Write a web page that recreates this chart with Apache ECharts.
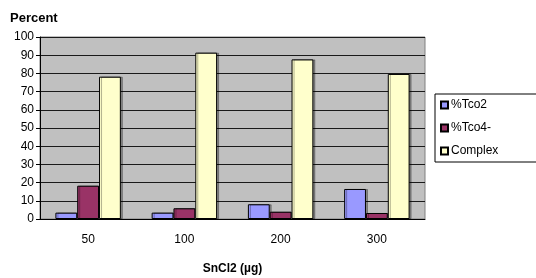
<!DOCTYPE html>
<html>
<head>
<meta charset="utf-8">
<script src="https://cdn.jsdelivr.net/npm/echarts@6/dist/echarts.min.js"></script>
<style>
  html, body { margin: 0; padding: 0; background: #fff; }
  #main { width: 536px; height: 278px; }
</style>
</head>
<body>
<div id="main"></div>
<script>
// SnCl2 amount (µg)
var categories = ['50', '100', '200', '300']
var tco2 = [3.5, 3.5, 8.1, 16.5]
var tco4 = [18.3, 5.9, 4.0, 3.3]
var complex = [78.2, 91.4, 87.7, 79.7]

function barSeries (name, data, color) {
  return {
    name: name,
    type: 'bar',
    data: data,
    barGap: '0%',
    barCategoryGap: '32%',
    itemStyle: {
      color: color,
      borderColor: '#000',
      borderWidth: 1,
      shadowColor: 'rgba(0,0,0,0.3)',
      shadowOffsetX: 2,
      shadowOffsetY: 0
    }
  }
}

var myChart = echarts.init(document.getElementById('main'))
myChart.setOption({
  animation: false,
  textStyle: { fontFamily: 'Liberation Sans, Arial, sans-serif' },
  grid: {
    left: 40,
    right: 111,
    top: 37,
    bottom: 59,
    outerBoundsMode: 'none',
    containLabel: false,
    show: true,
    backgroundColor: '#c0c0c0',
    borderColor: '#808080',
    borderWidth: 1
  },
  legend: {
    orient: 'vertical',
    left: 435,
    top: 94,
    itemWidth: 7,
    itemHeight: 7,
    itemGap: 11,
    icon: 'rect',
    padding: [5, 60, 5, 5],
    borderColor: '#000',
    borderWidth: 1,
    textStyle: { fontSize: 12, color: '#000', padding: [0, 0, 0, -2] },
    data: ['%Tco2', '%Tco4-', 'Complex']
  },
  xAxis: {
    type: 'category',
    data: categories,
    name: 'SnCl2 (µg)',
    nameLocation: 'middle',
    nameGap: 44,
    nameTextStyle: { fontWeight: 'bold', fontSize: 12, color: '#000' },
    axisLine: { lineStyle: { color: '#000' } },
    axisTick: { length: 4, lineStyle: { color: '#000' } },
    axisLabel: { color: '#000', fontSize: 12, margin: 15 }
  },
  yAxis: {
    type: 'value',
    min: 0,
    max: 100,
    interval: 10,
    name: 'Percent',
    nameLocation: 'end',
    nameGap: 12,
    nameTextStyle: { fontWeight: 'bold', fontSize: 13, color: '#000', align: 'left', padding: [0, 0, 0, -30] },
    axisLine: { show: true, lineStyle: { color: '#000' } },
    axisTick: { show: true, length: 4, lineStyle: { color: '#000' } },
    axisLabel: { color: '#000', fontSize: 12, margin: 6 },
    splitLine: { lineStyle: { color: '#1a1a1a', width: 1 } }
  },
  series: [
    barSeries('%Tco2', tco2, '#9999ff'),
    barSeries('%Tco4-', tco4, '#993366'),
    barSeries('Complex', complex, '#ffffcc')
  ]
}, true)
</script>
</body>
</html>
